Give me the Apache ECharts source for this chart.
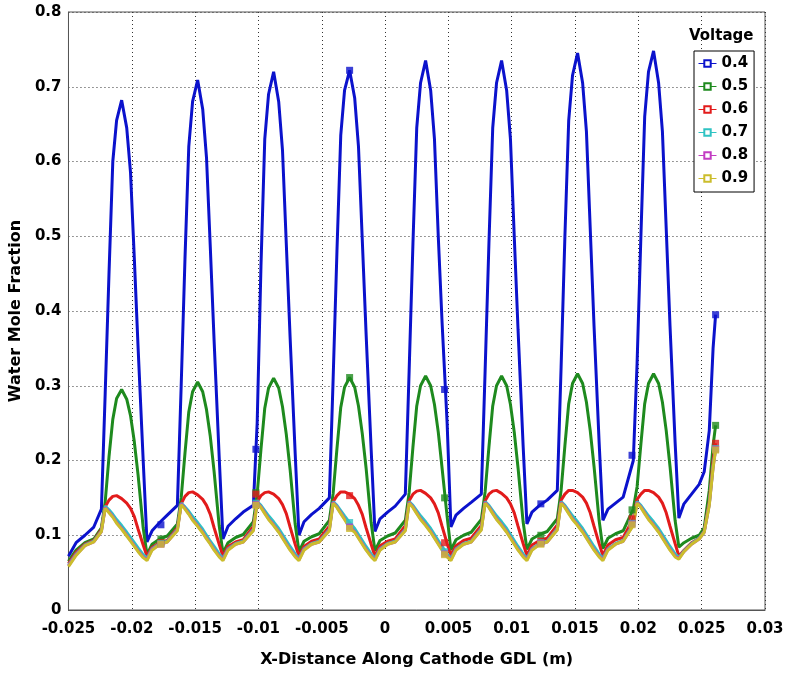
<!DOCTYPE html>
<html>
<head>
<meta charset="utf-8">
<script src="https://cdn.jsdelivr.net/npm/echarts@6/dist/echarts.min.js"></script>
<style>
html,body{margin:0;padding:0;background:#fff;}
#chart{width:787px;height:675px;}
</style>
</head>
<body>
<div id="chart"></div>
<script>
// ---- data ----
const xs = [
  -0.025, -0.0244, -0.0237, -0.0230,
  -0.0224, -0.0221, -0.0218, -0.0215, -0.0212, -0.0208, -0.0204, -0.0201, -0.0198, -0.0195, -0.0191, -0.0188, -0.0184, -0.0178, -0.0172,
  -0.0164, -0.0161, -0.0158, -0.0155, -0.0152, -0.0148, -0.0144, -0.0141, -0.0138, -0.0135, -0.0131, -0.0128, -0.0124, -0.0118, -0.0112,
  -0.0104, -0.0101, -0.0098, -0.0095, -0.0092, -0.0088, -0.0084, -0.0081, -0.0078, -0.0075, -0.0071, -0.0068, -0.0064, -0.0058, -0.0052,
  -0.0044, -0.0041, -0.0038, -0.0035, -0.0032, -0.0028, -0.0024, -0.0021, -0.0018, -0.0015, -0.0011, -0.0008, -0.0004, 0.0002, 0.0008,
  0.0016, 0.0019, 0.0022, 0.0025, 0.0028, 0.0032, 0.0036, 0.0039, 0.0042, 0.0045, 0.0049, 0.0052, 0.0056, 0.0062, 0.0068,
  0.0076, 0.0079, 0.0082, 0.0085, 0.0088, 0.0092, 0.0096, 0.0099, 0.0102, 0.0105, 0.0109, 0.0112, 0.0116, 0.0122, 0.0128,
  0.0136, 0.0139, 0.0142, 0.0145, 0.0148, 0.0152, 0.0156, 0.0159, 0.0162, 0.0165, 0.0169, 0.0172, 0.0176, 0.0182, 0.0188,
  0.0196, 0.0199, 0.0202, 0.0205, 0.0208, 0.0212, 0.0216, 0.0219, 0.0222, 0.0225, 0.0229, 0.0232,
  0.0236, 0.0242, 0.0248, 0.0252, 0.0256, 0.0259, 0.0261
];

const v04 = [
  0.072, 0.090, 0.100, 0.111,
  0.135, 0.290, 0.450, 0.600, 0.655, 0.682, 0.645, 0.585, 0.470, 0.350, 0.200, 0.091, 0.106, 0.117, 0.127,
  0.140, 0.300, 0.470, 0.620, 0.680, 0.709, 0.670, 0.605, 0.485, 0.360, 0.205, 0.095, 0.112, 0.122, 0.131,
  0.140, 0.250, 0.460, 0.630, 0.690, 0.720, 0.680, 0.615, 0.490, 0.365, 0.210, 0.100, 0.118, 0.128, 0.136,
  0.150, 0.310, 0.480, 0.635, 0.695, 0.722, 0.685, 0.620, 0.495, 0.370, 0.215, 0.105, 0.122, 0.131, 0.139,
  0.155, 0.320, 0.490, 0.645, 0.705, 0.735, 0.695, 0.630, 0.500, 0.385, 0.250, 0.111, 0.127, 0.136, 0.144,
  0.155, 0.320, 0.490, 0.645, 0.705, 0.735, 0.695, 0.630, 0.500, 0.375, 0.220, 0.115, 0.131, 0.140, 0.147,
  0.160, 0.325, 0.500, 0.655, 0.715, 0.745, 0.705, 0.640, 0.510, 0.380, 0.225, 0.120, 0.135, 0.143, 0.151,
  0.200, 0.330, 0.500, 0.660, 0.720, 0.748, 0.705, 0.640, 0.510, 0.380, 0.225, 0.123,
  0.142, 0.155, 0.168, 0.185, 0.240, 0.350, 0.395
];

const v05 = [
  0.065, 0.080, 0.090, 0.095,
  0.110, 0.145, 0.205, 0.255, 0.283, 0.295, 0.282, 0.260, 0.225, 0.180, 0.110, 0.074, 0.088, 0.095, 0.099,
  0.115, 0.150, 0.210, 0.265, 0.292, 0.305, 0.292, 0.268, 0.232, 0.185, 0.113, 0.076, 0.090, 0.097, 0.101,
  0.118, 0.155, 0.215, 0.270, 0.297, 0.310, 0.297, 0.272, 0.235, 0.188, 0.115, 0.078, 0.092, 0.098, 0.102,
  0.120, 0.156, 0.216, 0.271, 0.298, 0.311, 0.298, 0.273, 0.236, 0.190, 0.117, 0.079, 0.093, 0.099, 0.103,
  0.120, 0.157, 0.218, 0.273, 0.300, 0.313, 0.300, 0.275, 0.238, 0.190, 0.125, 0.080, 0.094, 0.100, 0.104,
  0.121, 0.158, 0.218, 0.273, 0.300, 0.313, 0.300, 0.275, 0.238, 0.190, 0.118, 0.081, 0.095, 0.101, 0.105,
  0.122, 0.160, 0.220, 0.276, 0.303, 0.316, 0.303, 0.278, 0.240, 0.192, 0.120, 0.082, 0.096, 0.102, 0.106,
  0.135, 0.165, 0.222, 0.276, 0.303, 0.316, 0.303, 0.278, 0.240, 0.192, 0.120, 0.084,
  0.090, 0.096, 0.100, 0.110, 0.160, 0.220, 0.247
];

const v06 = [
  0.062, 0.077, 0.088, 0.093,
  0.108, 0.138, 0.147, 0.152, 0.153, 0.149, 0.143, 0.136, 0.125, 0.108, 0.087, 0.072, 0.084, 0.090, 0.093,
  0.110, 0.142, 0.152, 0.157, 0.158, 0.154, 0.148, 0.140, 0.128, 0.110, 0.088, 0.072, 0.085, 0.091, 0.094,
  0.112, 0.145, 0.153, 0.157, 0.158, 0.155, 0.149, 0.141, 0.129, 0.111, 0.088, 0.072, 0.085, 0.092, 0.095,
  0.112, 0.145, 0.153, 0.158, 0.158, 0.155, 0.149, 0.140, 0.128, 0.110, 0.088, 0.072, 0.086, 0.092, 0.095,
  0.113, 0.146, 0.155, 0.159, 0.160, 0.156, 0.150, 0.142, 0.130, 0.112, 0.089, 0.073, 0.086, 0.093, 0.096,
  0.113, 0.146, 0.155, 0.159, 0.160, 0.156, 0.150, 0.142, 0.130, 0.112, 0.089, 0.073, 0.087, 0.093, 0.096,
  0.114, 0.147, 0.155, 0.160, 0.160, 0.157, 0.151, 0.143, 0.130, 0.112, 0.089, 0.073, 0.087, 0.094, 0.097,
  0.122, 0.148, 0.155, 0.160, 0.160, 0.157, 0.151, 0.143, 0.130, 0.112, 0.089, 0.072,
  0.080, 0.090, 0.096, 0.106, 0.145, 0.200, 0.223
];

const v07 = [
  0.060, 0.075, 0.087, 0.092,
  0.106, 0.139, 0.134, 0.128, 0.121, 0.113, 0.104, 0.097, 0.090, 0.083, 0.074, 0.069, 0.082, 0.089, 0.092,
  0.108, 0.143, 0.138, 0.132, 0.125, 0.117, 0.108, 0.100, 0.092, 0.085, 0.075, 0.069, 0.082, 0.089, 0.092,
  0.108, 0.145, 0.140, 0.133, 0.126, 0.118, 0.109, 0.101, 0.093, 0.085, 0.075, 0.069, 0.082, 0.089, 0.092,
  0.108, 0.145, 0.140, 0.133, 0.126, 0.117, 0.109, 0.101, 0.093, 0.085, 0.075, 0.069, 0.082, 0.089, 0.092,
  0.108, 0.145, 0.140, 0.133, 0.126, 0.118, 0.109, 0.101, 0.093, 0.085, 0.075, 0.069, 0.082, 0.089, 0.092,
  0.109, 0.145, 0.140, 0.133, 0.126, 0.118, 0.109, 0.101, 0.093, 0.085, 0.075, 0.069, 0.082, 0.089, 0.092,
  0.109, 0.145, 0.140, 0.133, 0.126, 0.118, 0.109, 0.101, 0.093, 0.085, 0.075, 0.069, 0.082, 0.089, 0.093,
  0.115, 0.145, 0.140, 0.133, 0.126, 0.118, 0.109, 0.101, 0.093, 0.085, 0.075, 0.070,
  0.079, 0.089, 0.096, 0.105, 0.142, 0.193, 0.216
];

const v08 = [
  0.059, 0.074, 0.086, 0.091,
  0.105, 0.137, 0.131, 0.125, 0.117, 0.109, 0.100, 0.093, 0.086, 0.079, 0.071, 0.067, 0.081, 0.088, 0.091,
  0.107, 0.142, 0.136, 0.129, 0.121, 0.113, 0.104, 0.096, 0.089, 0.081, 0.072, 0.067, 0.081, 0.088, 0.091,
  0.107, 0.144, 0.138, 0.130, 0.122, 0.114, 0.105, 0.097, 0.089, 0.081, 0.072, 0.067, 0.081, 0.088, 0.091,
  0.107, 0.144, 0.138, 0.130, 0.122, 0.111, 0.105, 0.097, 0.089, 0.081, 0.072, 0.067, 0.081, 0.088, 0.091,
  0.107, 0.144, 0.138, 0.130, 0.122, 0.114, 0.105, 0.097, 0.089, 0.081, 0.072, 0.067, 0.081, 0.088, 0.091,
  0.108, 0.144, 0.138, 0.130, 0.122, 0.114, 0.105, 0.097, 0.089, 0.081, 0.072, 0.067, 0.081, 0.088, 0.091,
  0.108, 0.144, 0.138, 0.130, 0.122, 0.114, 0.105, 0.097, 0.089, 0.081, 0.072, 0.067, 0.081, 0.088, 0.092,
  0.114, 0.144, 0.138, 0.130, 0.122, 0.114, 0.105, 0.097, 0.089, 0.081, 0.072, 0.069,
  0.078, 0.088, 0.095, 0.104, 0.141, 0.191, 0.215
];

const v09 = [
  0.058, 0.073, 0.086, 0.091,
  0.105, 0.136, 0.130, 0.124, 0.116, 0.108, 0.099, 0.092, 0.085, 0.078, 0.070, 0.066, 0.080, 0.088, 0.091,
  0.106, 0.141, 0.135, 0.128, 0.120, 0.112, 0.103, 0.095, 0.088, 0.080, 0.071, 0.066, 0.080, 0.088, 0.091,
  0.106, 0.143, 0.137, 0.129, 0.121, 0.113, 0.104, 0.096, 0.088, 0.080, 0.071, 0.066, 0.080, 0.088, 0.091,
  0.106, 0.143, 0.137, 0.129, 0.121, 0.110, 0.104, 0.096, 0.088, 0.080, 0.071, 0.066, 0.080, 0.088, 0.091,
  0.106, 0.143, 0.137, 0.129, 0.121, 0.113, 0.104, 0.096, 0.088, 0.080, 0.071, 0.066, 0.080, 0.088, 0.091,
  0.107, 0.143, 0.137, 0.129, 0.121, 0.113, 0.104, 0.096, 0.088, 0.080, 0.071, 0.066, 0.080, 0.088, 0.091,
  0.107, 0.143, 0.137, 0.129, 0.121, 0.113, 0.104, 0.096, 0.088, 0.080, 0.071, 0.066, 0.080, 0.088, 0.092,
  0.113, 0.143, 0.137, 0.129, 0.121, 0.113, 0.104, 0.096, 0.088, 0.080, 0.071, 0.068,
  0.078, 0.088, 0.095, 0.104, 0.140, 0.190, 0.214
];

// sparse square markers along each curve
const markerX = [-0.0177, -0.0102, -0.0028, 0.0047, 0.0123, 0.0195, 0.0261];
const m04 = [0.114, 0.215, 0.722, 0.295, 0.142, 0.207, 0.395];
const m05 = [0.095, 0.157, 0.311, 0.150, 0.100, 0.134, 0.247];
const m06 = [0.090, 0.155, 0.153, 0.090, 0.092, 0.122, 0.223];
const m07 = [0.089, 0.143, 0.117, 0.078, 0.090, 0.116, 0.216];
const m08 = [0.088, 0.141, 0.111, 0.075, 0.089, 0.115, 0.215];
const m09 = [0.088, 0.140, 0.109, 0.074, 0.088, 0.114, 0.214];

const seriesNames = ['0.4', '0.5', '0.6', '0.7', '0.8', '0.9'];
const lineValues = [v04, v05, v06, v07, v08, v09];
const markerValues = [m04, m05, m06, m07, m08, m09];
const colors = ['#0b12cc', '#1e8a1e', '#e21b1b', '#2fc3c3', '#c23cc2', '#cbbd2c'];

const xTickLabels = ['-0.025','-0.02','-0.015','-0.01','-0.005','0','0.005','0.01','0.015','0.02','0.025','0.03'];
const yTickLabels = ['0','0.1','0.2','0.3','0.4','0.5','0.6','0.7','0.8'];

// ---- chart ----
const FONT = '"DejaVu Sans", "Liberation Sans", sans-serif';
const chart = echarts.init(document.getElementById('chart'), null, {renderer: 'canvas'});

const series = [];
seriesNames.forEach((name, i) => {
  series.push({
    name: name,
    type: 'line',
    data: xs.map((x, j) => [x, lineValues[i][j]]),
    symbol: 'emptyRect',
    showSymbol: false,
    lineStyle: {color: colors[i], width: 3},
    itemStyle: {color: colors[i]},
    emphasis: {disabled: true},
    z: 2 + i,
    animation: false
  });
});
seriesNames.forEach((name, i) => {
  series.push({
    name: name + ' markers',
    type: 'scatter',
    data: markerX.map((x, j) => [x, markerValues[i][j]]),
    symbol: 'rect',
    symbolSize: 7,
    itemStyle: {color: colors[i]},
    emphasis: {disabled: true},
    z: 10,
    animation: false
  });
});

const xMin = -0.025, xStep = 0.005, yStep = 0.1;

chart.setOption({
  backgroundColor: '#fff',
  animation: false,
  grid: {left: 67, right: 22, top: 12, bottom: 65, show: true, borderColor: '#555', borderWidth: 1, containLabel: false},
  xAxis: {
    type: 'value', min: xMin, max: 0.03, interval: xStep,
    name: 'X-Distance Along Cathode GDL (m)', nameLocation: 'middle', nameGap: 42,
    nameTextStyle: {fontFamily: FONT, fontWeight: 'bold', fontSize: 16, color: '#000'},
    axisLine: {show: true, onZero: false, lineStyle: {color: '#555', width: 1}},
    axisTick: {show: false},
    axisLabel: {
      margin: 12, fontFamily: FONT, fontWeight: 'bold', fontSize: 15, color: '#000',
      formatter: v => xTickLabels[Math.round((v - xMin) / xStep)]
    },
    splitLine: {show: true, lineStyle: {color: '#333', width: 1, type: [1, 3]}}
  },
  yAxis: {
    type: 'value', min: 0, max: 0.8, interval: yStep,
    name: 'Water Mole Fraction', nameLocation: 'middle', nameGap: 40,
    nameTextStyle: {fontFamily: FONT, fontWeight: 'bold', fontSize: 16, color: '#000'},
    axisLine: {show: true, onZero: false, lineStyle: {color: '#555', width: 1}},
    axisTick: {show: false},
    axisLabel: {
      margin: 7, fontFamily: FONT, fontWeight: 'bold', fontSize: 15, color: '#000',
      formatter: v => yTickLabels[Math.round(v / yStep)]
    },
    splitLine: {show: true, lineStyle: {color: '#333', width: 1, type: [1, 3]}}
  },
  legend: {
    data: seriesNames,
    orient: 'vertical',
    left: 694, top: 51,
    padding: [4, 6, 5, 4],
    itemGap: 6,
    itemWidth: 18, itemHeight: 8,
    backgroundColor: '#fff',
    borderColor: '#000', borderWidth: 1,
    lineStyle: {width: 1},
    selectedMode: false,
    textStyle: {fontFamily: FONT, fontWeight: 'bold', fontSize: 15, color: '#000', lineHeight: 17}
  },
  graphic: [{
    type: 'text', left: 689, top: 29, z: 100,
    style: {text: 'Voltage', font: 'bold 15px ' + FONT, fill: '#000'}
  }],
  series: series
});
</script>
</body>
</html>
